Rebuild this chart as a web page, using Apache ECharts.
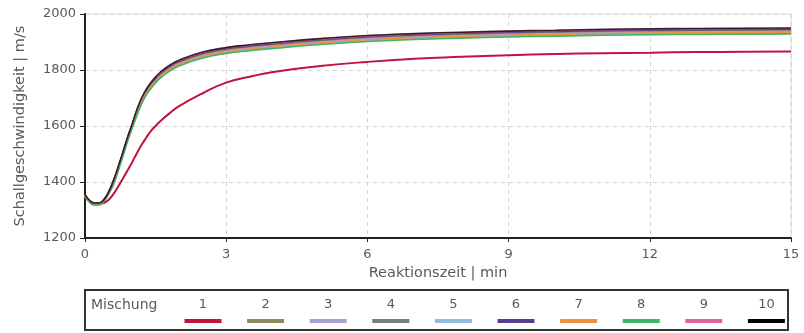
<!DOCTYPE html>
<html>
<head>
<meta charset="utf-8">
<script src="https://cdn.jsdelivr.net/npm/echarts@6/dist/echarts.min.js"></script>
<style>
  html, body { margin: 0; padding: 0; background: #fff; }
  #chart { width: 804px; height: 333px; }
</style>
</head>
<body>
<div id="chart"></div>
<script>
// Schallgeschwindigkeit über Reaktionszeit, Mischungen 1-10

var zeit = [0, 0.1, 0.2, 0.3, 0.4, 0.5, 0.6, 0.7, 0.8, 0.9, 1.0, 1.1, 1.2, 1.3, 1.4, 1.5, 1.6, 1.8, 2.0, 2.5, 3, 3.5, 4, 5, 6, 7, 8, 9, 10, 11, 12, 13, 14, 15];

var mischung1  = [1352, 1331, 1322, 1321, 1325, 1336, 1356, 1382, 1411, 1440, 1470, 1502, 1532, 1558, 1582, 1600, 1617, 1646, 1671, 1717, 1755, 1776, 1793, 1814, 1829, 1840, 1847, 1853, 1857, 1860, 1862, 1864, 1865, 1866];
var mischung2  = [1352, 1331, 1322, 1322, 1334, 1361, 1398, 1446, 1498, 1552, 1600, 1648, 1690, 1722, 1746, 1766, 1783, 1808, 1826, 1855, 1871, 1881, 1889, 1903, 1914, 1921, 1926, 1930, 1933, 1936, 1938, 1939, 1940, 1941];
var mischung3  = [1351, 1330, 1321, 1321, 1333, 1360, 1396, 1444, 1496, 1550, 1598, 1645, 1687, 1719, 1743, 1763, 1780, 1805, 1823, 1852, 1868, 1878, 1886, 1900, 1911, 1918, 1923, 1927, 1930, 1933, 1935, 1936, 1937, 1938];
var mischung4  = [1354, 1333, 1324, 1324, 1336, 1363, 1400, 1448, 1500, 1554, 1602, 1651, 1693, 1725, 1749, 1769, 1786, 1811, 1829, 1858, 1874, 1884, 1892, 1906, 1917, 1924, 1929, 1933, 1936, 1939, 1941, 1942, 1943, 1944];
var mischung5  = [1349, 1328, 1319, 1319, 1331, 1358, 1391, 1439, 1491, 1545, 1593, 1639, 1681, 1713, 1737, 1757, 1774, 1799, 1817, 1846, 1862, 1872, 1880, 1894, 1905, 1912, 1917, 1921, 1924, 1927, 1929, 1930, 1931, 1932];
var mischung6  = [1354, 1333, 1324, 1324, 1336, 1363, 1401, 1449, 1501, 1555, 1603, 1653, 1695, 1727, 1751, 1771, 1788, 1813, 1831, 1860, 1876, 1886, 1894, 1908, 1919, 1926, 1931, 1935, 1938, 1941, 1943, 1944, 1945, 1946];
var mischung7  = [1350, 1329, 1320, 1320, 1332, 1359, 1393, 1441, 1493, 1547, 1595, 1642, 1684, 1716, 1740, 1760, 1777, 1802, 1820, 1849, 1865, 1875, 1883, 1897, 1908, 1915, 1920, 1924, 1927, 1930, 1932, 1933, 1934, 1935];
var mischung8  = [1348, 1327, 1318, 1318, 1330, 1357, 1389, 1437, 1489, 1543, 1591, 1636, 1678, 1710, 1734, 1754, 1771, 1796, 1814, 1843, 1859, 1869, 1877, 1891, 1902, 1909, 1914, 1918, 1921, 1924, 1926, 1927, 1928, 1929];
var mischung9  = [1355, 1334, 1325, 1325, 1337, 1364, 1403, 1451, 1503, 1557, 1605, 1656, 1698, 1730, 1754, 1774, 1791, 1816, 1834, 1863, 1879, 1889, 1897, 1911, 1922, 1929, 1934, 1938, 1941, 1944, 1946, 1947, 1948, 1949];
var mischung10 = [1355, 1334, 1325, 1325, 1337, 1364, 1404, 1452, 1504, 1558, 1606, 1657, 1699, 1731, 1755, 1775, 1792, 1817, 1835, 1864, 1880, 1890, 1898, 1912, 1923, 1930, 1935, 1939, 1942, 1945, 1947, 1948, 1949, 1950];

var namen = ['1', '2', '3', '4', '5', '6', '7', '8', '9', '10'];
var werte = [mischung1, mischung2, mischung3, mischung4, mischung5, mischung6, mischung7, mischung8, mischung9, mischung10];
var farben = ['#c0143c', '#8c8a5c', '#aaa2cc', '#7c7c7c', '#8fbde0', '#5b3d8d', '#ee9040', '#3db466', '#e2619e', '#000000'];

var xTicks = [0, 3, 6, 9, 12, 15];
var yTicks = [1200, 1400, 1600, 1800, 2000];

var textFarbe = '#5a5a5a';
var schrift = '"DejaVu Sans", "Noto Sans", sans-serif';

var series = werte.map(function (w, i) {
    return {
        name: namen[i],
        type: 'line',
        smooth: true,
        showSymbol: false,
        data: w.map(function (v, j) { return [zeit[j], v]; }),
        lineStyle: { color: farben[i], width: i === 0 ? 2 : 1.6, opacity: i === 9 ? 0.75 : 1 },
        itemStyle: { color: farben[i] }
    };
});

// Legendenkasten unten
var legendeX0 = 203, legendeDx = 62.6;
var legende = [
    {
        type: 'rect',
        shape: { x: 85, y: 290, width: 703, height: 40 },
        style: { fill: 'none', stroke: '#333', lineWidth: 2 }
    },
    {
        type: 'text',
        x: 91, y: 305,
        style: { text: 'Mischung', fill: textFarbe, font: '14px ' + schrift, textVerticalAlign: 'middle' }
    }
];
namen.forEach(function (n, i) {
    var cx = legendeX0 + i * legendeDx;
    legende.push({
        type: 'text',
        x: cx, y: 305,
        style: { text: n, fill: textFarbe, font: '13px ' + schrift, textAlign: 'center', textVerticalAlign: 'middle' }
    });
    legende.push({
        type: 'rect',
        shape: { x: cx - 18.5, y: 319, width: 37, height: 4 },
        style: { fill: farben[i] }
    });
});

var option = {
    animation: false,
    textStyle: { fontFamily: schrift },
    grid: {
        left: 85,
        right: 13,
        top: 14,
        bottom: 95,
        show: true,
        borderColor: '#dcdcdc',
        borderWidth: 1
    },
    xAxis: {
        type: 'value',
        min: xTicks[0],
        max: xTicks[xTicks.length - 1],
        interval: 3,
        name: 'Reaktionszeit | min',
        nameLocation: 'middle',
        nameGap: 25,
        nameTextStyle: { color: textFarbe, fontSize: 14.5, fontFamily: schrift },
        axisLine: { lineStyle: { color: '#222', width: 2 } },
        axisTick: { show: true, length: 4, lineStyle: { color: '#222' } },
        axisLabel: { color: textFarbe, fontSize: 13, margin: 10, fontFamily: schrift },
        splitLine: { show: true, lineStyle: { color: '#d4d4d4', type: [4, 4] } }
    },
    yAxis: {
        type: 'value',
        min: yTicks[0],
        max: yTicks[yTicks.length - 1],
        interval: 200,
        name: 'Schallgeschwindigkeit | m/s',
        nameLocation: 'middle',
        nameGap: 57,
        nameTextStyle: { color: textFarbe, fontSize: 14.5, fontFamily: schrift },
        axisLine: { show: true, lineStyle: { color: '#222', width: 2 } },
        axisTick: { show: true, length: 5, lineStyle: { color: '#222' } },
        axisLabel: {
            color: textFarbe, fontSize: 13, margin: 9, fontFamily: schrift,
            formatter: function (v) { return String(v); }
        },
        splitLine: { show: true, lineStyle: { color: '#d4d4d4', type: [4, 4] } }
    },
    graphic: legende,
    series: series
};

var myChart = echarts.init(document.getElementById('chart'));
myChart.setOption(option);
</script>
</body>
</html>
